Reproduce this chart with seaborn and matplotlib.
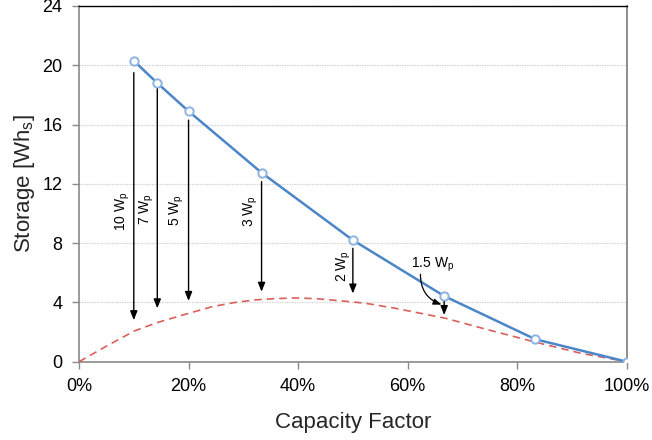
import matplotlib
matplotlib.use("Agg")
import matplotlib.pyplot as plt
from matplotlib.ticker import PercentFormatter
import seaborn as sns
import pandas as pd

# ---- data ----
cap_factor = [0.10, 0.1429, 0.20, 0.3333, 0.50, 0.6667, 0.8333, 1.00]
storage = [20.3, 18.8, 16.9, 12.75, 8.2, 4.43, 1.51, 0.0]

red_cf = [0.0, 0.054, 0.101, 0.142, 0.20, 0.243, 0.282, 0.319, 0.355, 0.395,
          0.434, 0.489, 0.523, 0.578, 0.669, 0.737, 0.834, 0.916, 1.00]
red_storage = [0.0, 1.13, 2.07, 2.63, 3.26, 3.71, 3.98, 4.16, 4.25, 4.30,
               4.25, 4.07, 3.94, 3.60, 2.93, 2.25, 1.31, 0.57, 0.0]

arrow_labels = ["10 W$_\\mathrm{p}$", "7 W$_\\mathrm{p}$", "5 W$_\\mathrm{p}$",
                "3 W$_\\mathrm{p}$", "2 W$_\\mathrm{p}$", "1.5 W$_\\mathrm{p}$"]
arrow_x = [0.10, 0.1429, 0.20, 0.3333, 0.50, 0.6667]
arrow_start = [19.5, 18.4, 16.3, 12.15, 7.65, 4.05]
arrow_end = [2.8, 3.6, 4.1, 4.72, 4.6, 3.15]
label_x = [0.0804, 0.1238, 0.179, 0.3144, 0.483, 0.646]
label_y = [10.17, 10.3, 10.2, 10.17, 6.46, 6.52]

x_ticks = [0, 0.2, 0.4, 0.6, 0.8, 1.0]
y_ticks = [0, 4, 8, 12, 16, 20, 24]

sns.set_theme(style="white")
plt.rcParams["font.family"] = ["Liberation Sans", "DejaVu Sans"]
plt.rcParams["mathtext.fontset"] = "custom"
plt.rcParams["mathtext.rm"] = "Liberation Sans"
plt.rcParams["mathtext.it"] = "Liberation Sans:italic"

fig = plt.figure(figsize=(6.52, 4.40), dpi=100)
ax = fig.add_axes([0.1212, 0.178, 0.9612 - 0.1212, 0.9864 - 0.178])

blue_df = pd.DataFrame({"cf": cap_factor, "st": storage})
red_df = pd.DataFrame({"cf": red_cf, "st": red_storage})

sns.lineplot(data=red_df, x="cf", y="st", ax=ax, color="#d9605a",
             linestyle=(0, (4.5, 3)), linewidth=1.2, zorder=3)
sns.lineplot(data=blue_df, x="cf", y="st", ax=ax, color="#4a86c8",
             linewidth=1.8, marker="o", markersize=6,
             markerfacecolor="white", markeredgecolor="#8db3e2",
             markeredgewidth=1.4, zorder=4)

# arrows
for x, y0, y1 in zip(arrow_x, arrow_start, arrow_end):
    ax.annotate("", xy=(x, y1), xytext=(x, y0),
                arrowprops=dict(arrowstyle="-|>,head_length=0.45,head_width=0.18",
                                color="black", lw=1.0, shrinkA=0, shrinkB=0),
                zorder=5)

for i, (lab, lx, ly) in enumerate(zip(arrow_labels, label_x, label_y)):
    rot = 0 if i == len(arrow_labels) - 1 else 90
    ax.text(lx, ly, lab, rotation=rot, ha="center", va="center",
            fontsize=10, color="black", zorder=6)

# curved connector from "1.5 Wp" label
ax.annotate("", xy=(0.662, 3.85), xytext=(0.6234, 5.9),
            arrowprops=dict(arrowstyle="-|>,head_length=0.4,head_width=0.15",
                            color="black", lw=0.9, shrinkA=0, shrinkB=0,
                            connectionstyle="arc3,rad=0.35"),
            zorder=5)

ax.set_xlim(0, 1)
ax.set_ylim(0, 24)
ax.set_xticks(x_ticks)
ax.set_yticks(y_ticks)
ax.xaxis.set_major_formatter(PercentFormatter(xmax=1, decimals=0))
ax.tick_params(axis="both", labelsize=13, colors="#8a8a8a", labelcolor="black",
               length=5, width=1, direction="out", bottom=True, left=True, pad=7)

ax.yaxis.grid(True, color="#cfcfcf", linestyle=(0, (1, 1)), linewidth=0.9)
ax.xaxis.grid(False)
ax.set_axisbelow(True)

for side in ["left", "bottom"]:
    ax.spines[side].set_color("#8a8a8a")
    ax.spines[side].set_linewidth(1.2)
ax.spines["right"].set_color("#7a7a7a")
ax.spines["right"].set_linewidth(1.2)
ax.spines["top"].set_color("black")
ax.spines["top"].set_linewidth(1.0)

ax.set_xlabel("Capacity Factor", fontsize=16, labelpad=12)
ax.set_ylabel("Storage [Wh$_\\mathrm{s}$]", fontsize=16, labelpad=4)

fig.savefig("out.png", dpi=100)
